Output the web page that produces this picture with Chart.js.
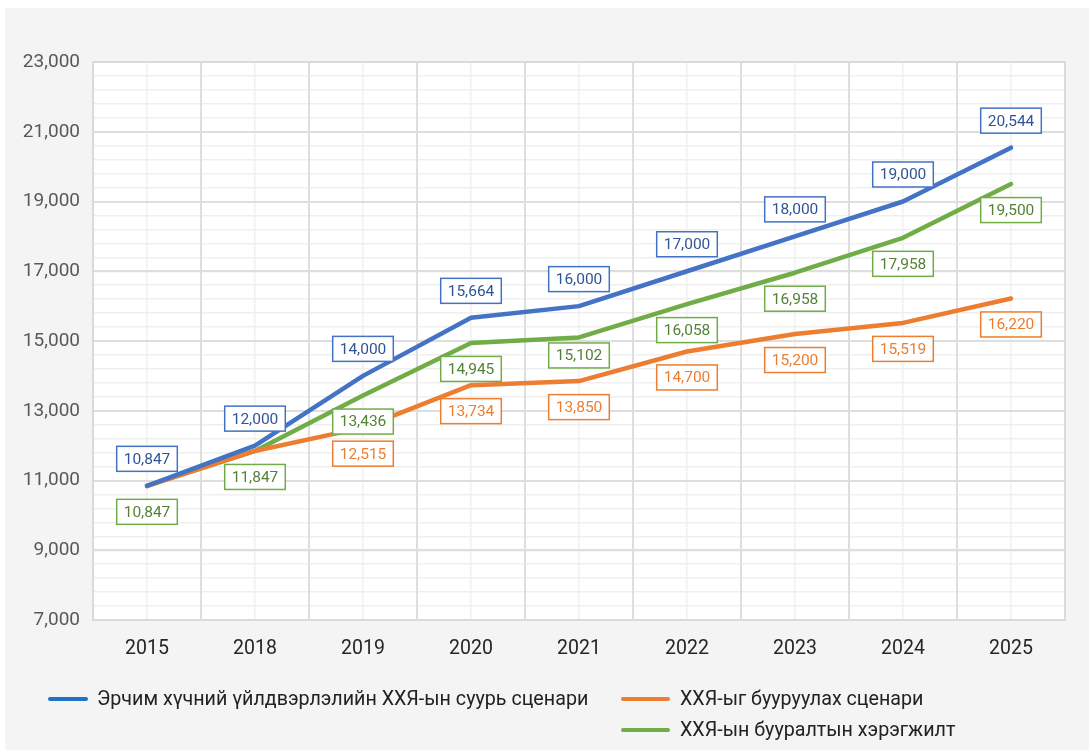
<!DOCTYPE html>
<html>
<head>
<meta charset="utf-8">
<script src="https://cdn.jsdelivr.net/npm/chart.js@4/dist/chart.umd.min.js"></script>
<style>
  html, body { margin: 0; padding: 0; background: #fff; }
  #wrap { position: absolute; left: 5px; top: 8px; width: 1084px; height: 742px; background: #f4f4f4; }
  #c { position: absolute; left: 0; top: 0; }
  .lg { position: absolute; font: 19.7px Roboto, sans-serif; color: #222; display: flex; align-items: center; white-space: nowrap; }
  .lg i { display: inline-block; width: 40px; height: 4px; border-radius: 2px; margin-right: 9px; }
  .lg.r i { width: 49px; margin-right: 10px; }
</style>
</head>
<body>
<div id="wrap"></div>
<canvas id="c" width="1089" height="754"></canvas>
<div class="lg" style="left:48px;top:687px"><i style="background:#1f72c4"></i>Эрчим хүчний үйлдвэрлэлийн ХХЯ-ын суурь сценари</div>
<div class="lg r" style="left:621px;top:687px"><i style="background:#ed7d31"></i>ХХЯ-ыг бууруулах сценари</div>
<div class="lg r" style="left:621px;top:718px"><i style="background:#70ad47"></i>ХХЯ-ын бууралтын хэрэгжилт</div>
<script>
// ========== ДАННЫЕ ==========
const years = ['2015', '2018', '2019', '2020', '2021', '2022', '2023', '2024', '2025'];
const baseScenario = [10847, 12000, 14000, 15664, 16000, 17000, 18000, 19000, 20544];
const reduceScenario = [10847, 11847, 12515, 13734, 13850, 14700, 15200, 15519, 16220];
const reduceActual = [10847, 11847, 13436, 14945, 15102, 16058, 16958, 17958, 19500];

const fmt = v => v.toLocaleString('en-US');

// fond blanc + cadre de la zone de tracé
const plotBg = {
  id: 'plotBg',
  beforeDraw(chart) {
    const { ctx, chartArea: a } = chart;
    ctx.save();
    ctx.fillStyle = '#ffffff';
    ctx.fillRect(a.left, a.top, a.right - a.left, a.bottom - a.top);
    ctx.restore();
  },
  beforeDatasetsDraw(chart) {
    const { ctx, chartArea: a } = chart;
    ctx.save();
    ctx.strokeStyle = '#dadada';
    ctx.lineWidth = 2;
    ctx.strokeRect(a.left, a.top, a.right - a.left, a.bottom - a.top);
    ctx.restore();
  }
};

// étiquettes encadrées
const boxLabels = {
  id: 'boxLabels',
  afterDatasetsDraw(chart) {
    const ctx = chart.ctx;
    ctx.save();
    ctx.font = '15.5px Roboto, sans-serif';
    ctx.textAlign = 'center';
    ctx.textBaseline = 'middle';
    chart.data.datasets.forEach((ds, i) => {
      const meta = chart.getDatasetMeta(i);
      const cfg = ds.boxLabel;
      meta.data.forEach((pt, j) => {
        if (cfg.skip && cfg.skip.includes(j)) return;
        const dy = (cfg.shift && cfg.shift[j] !== undefined) ? cfg.shift[j] : cfg.dy;
        const txt = fmt(ds.data[j]);
        const w = ctx.measureText(txt).width + 14;
        const h = 25;
        const cx = pt.x, cy = pt.y + dy;
        ctx.fillStyle = '#ffffff';
        ctx.fillRect(cx - w / 2, cy - h / 2, w, h);
        ctx.strokeStyle = ds.borderColor;
        ctx.lineWidth = 1.5;
        ctx.strokeRect(cx - w / 2, cy - h / 2, w, h);
        ctx.fillStyle = cfg.text;
        ctx.fillText(txt, cx, cy + 1);
      });
    });
    ctx.restore();
  }
};

const lineStyle = {
  borderWidth: 4.5,
  pointRadius: 0,
  tension: 0,
  borderCapStyle: 'round',
  borderJoinStyle: 'round',
  fill: false
};

new Chart(document.getElementById('c'), {
  type: 'line',
  data: {
    labels: years,
    datasets: [
      { ...lineStyle, label: 'base', data: baseScenario, borderColor: '#4472c4',
        boxLabel: { dy: -27, text: '#2f5597' } },
      { ...lineStyle, label: 'reduce', data: reduceScenario, borderColor: '#ed7d31',
        boxLabel: { dy: 26, text: '#ed7d31', skip: [0, 1] } },
      { ...lineStyle, label: 'actual', data: reduceActual, borderColor: '#70ad47',
        boxLabel: { dy: 26, text: '#548235', shift: { 4: 18 } } }
    ]
  },
  options: {
    responsive: false,
    animation: false,
    layout: { padding: { left: 0, top: 62, right: 24, bottom: 84 } },
    plugins: { legend: { display: false }, tooltip: { enabled: false } },
    scales: {
      x: {
        offset: true,
        grid: { offset: true, color: '#dedede', lineWidth: 2, drawTicks: false, z: -1 },
        border: { display: false },
        ticks: { color: '#262626', font: { family: 'Roboto', size: 19.5 }, padding: 17 },
        afterFit(s) { s.height = 50; }
      },
      x2: {
        type: 'category',
        position: 'bottom',
        offset: true,
        grid: { offset: false, color: '#f0f0f0', lineWidth: 1.5, drawTicks: false, z: -2 },
        border: { display: false },
        ticks: { display: false },
        afterFit(s) { s.height = 0; }
      },
      y: {
        min: 7000,
        max: 23000,
        ticks: { stepSize: 2000, color: '#595959', font: { family: 'Roboto', size: 19 }, padding: 13,
          callback: v => fmt(v) },
        grid: { color: '#dedede', lineWidth: 2, drawTicks: false, z: -1 },
        border: { display: false },
        afterFit(s) { s.width = 93; }
      },
      y2: {
        position: 'left',
        min: 7000,
        max: 23000,
        ticks: { stepSize: 400, display: false },
        grid: { color: '#efefef', lineWidth: 1.5, drawTicks: false, z: -2 },
        border: { display: false },
        afterFit(s) { s.width = 0; }
      }
    }
  },
  plugins: [plotBg, boxLabels]
});
</script>
</body>
</html>
